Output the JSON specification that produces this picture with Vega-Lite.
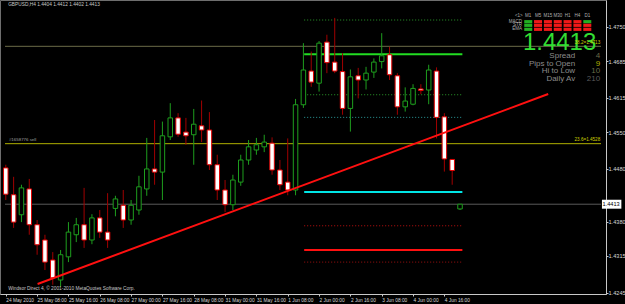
{
"$schema": "https://vega.github.io/schema/vega-lite/v6.json",
"width": 606, "height": 294,
"autosize": {"type": "none"},
"padding": {"left": 0, "top": 0, "right": 19, "bottom": 10},
"background": "#000000",
"config": {
 "view": {"stroke": "#6e6e6e", "strokeWidth": 1},
 "axis": {"grid": false, "title": null, "domainColor": "#c8c8c8", "tickColor": "#c8c8c8", "labelColor": "#d8d8d8", "labelFont": "Liberation Sans", "labelFontSize": 5.6, "tickSize": 2, "labelPadding": 0}
},
"datasets": {
 "candles": [
  {"k":0,"o":1.4482,"h":1.4488,"l":1.4421,"c":1.4432},
  {"k":1,"o":1.4431,"h":1.4465,"l":1.4368,"c":1.4379},
  {"k":2,"o":1.4393,"h":1.4450,"l":1.4379,"c":1.4444},
  {"k":3,"o":1.4442,"h":1.4461,"l":1.4355,"c":1.4374},
  {"k":4,"o":1.4374,"h":1.4383,"l":1.4317,"c":1.4336},
  {"k":5,"o":1.4345,"h":1.4355,"l":1.4288,"c":1.4303},
  {"k":6,"o":1.4307,"h":1.4322,"l":1.4260,"c":1.4273},
  {"k":7,"o":1.4269,"h":1.4326,"l":1.4256,"c":1.4317},
  {"k":8,"o":1.4313,"h":1.4379,"l":1.4303,"c":1.4360},
  {"k":9,"o":1.4355,"h":1.4387,"l":1.4341,"c":1.4374},
  {"k":10,"o":1.4374,"h":1.4444,"l":1.4330,"c":1.4345},
  {"k":11,"o":1.4345,"h":1.4394,"l":1.4337,"c":1.4387},
  {"k":12,"o":1.4387,"h":1.4402,"l":1.4349,"c":1.4360},
  {"k":13,"o":1.4360,"h":1.4434,"l":1.4330,"c":1.4345},
  {"k":14,"o":1.4405,"h":1.4429,"l":1.4390,"c":1.4423},
  {"k":15,"o":1.4411,"h":1.4440,"l":1.4368,"c":1.4383},
  {"k":16,"o":1.4383,"h":1.4421,"l":1.4374,"c":1.4411},
  {"k":17,"o":1.4402,"h":1.4467,"l":1.4393,"c":1.4446},
  {"k":18,"o":1.4442,"h":1.4539,"l":1.4429,"c":1.4480},
  {"k":19,"o":1.4480,"h":1.4573,"l":1.4450,"c":1.4474},
  {"k":20,"o":1.4474,"h":1.4570,"l":1.4421,"c":1.4543},
  {"k":21,"o":1.4541,"h":1.4605,"l":1.4535,"c":1.4577},
  {"k":22,"o":1.4577,"h":1.4586,"l":1.4541,"c":1.4546},
  {"k":23,"o":1.4550,"h":1.4577,"l":1.4526,"c":1.4543},
  {"k":24,"o":1.4545,"h":1.4594,"l":1.4488,"c":1.4565},
  {"k":25,"o":1.4562,"h":1.4610,"l":1.4531,"c":1.4554},
  {"k":26,"o":1.4554,"h":1.4588,"l":1.4478,"c":1.4488},
  {"k":27,"o":1.4488,"h":1.4507,"l":1.4421,"c":1.4440},
  {"k":28,"o":1.4440,"h":1.4459,"l":1.4398,"c":1.4412},
  {"k":29,"o":1.4412,"h":1.4469,"l":1.4402,"c":1.4459},
  {"k":30,"o":1.4455,"h":1.4507,"l":1.4448,"c":1.4497},
  {"k":31,"o":1.4497,"h":1.4535,"l":1.4488,"c":1.4522},
  {"k":32,"o":1.4516,"h":1.4539,"l":1.4507,"c":1.4526},
  {"k":33,"o":1.4522,"h":1.4545,"l":1.4512,"c":1.4531},
  {"k":34,"o":1.4529,"h":1.4540,"l":1.4469,"c":1.4478},
  {"k":35,"o":1.4478,"h":1.4497,"l":1.4440,"c":1.4450},
  {"k":36,"o":1.4455,"h":1.4538,"l":1.4430,"c":1.4440},
  {"k":37,"o":1.4440,"h":1.4613,"l":1.4430,"c":1.4602},
  {"k":38,"o":1.4602,"h":1.4719,"l":1.4596,"c":1.4668},
  {"k":39,"o":1.4666,"h":1.4703,"l":1.4636,"c":1.4645},
  {"k":40,"o":1.4643,"h":1.4723,"l":1.4627,"c":1.4719},
  {"k":41,"o":1.4721,"h":1.4735,"l":1.4662,"c":1.4682},
  {"k":42,"o":1.4683,"h":1.4767,"l":1.4662,"c":1.4666},
  {"k":43,"o":1.4665,"h":1.4700,"l":1.4583,"c":1.4595},
  {"k":44,"o":1.4595,"h":1.4669,"l":1.4551,"c":1.4655},
  {"k":45,"o":1.4657,"h":1.4672,"l":1.4614,"c":1.4649},
  {"k":46,"o":1.4649,"h":1.4674,"l":1.4631,"c":1.4662},
  {"k":47,"o":1.4664,"h":1.4690,"l":1.4653,"c":1.4683},
  {"k":48,"o":1.4684,"h":1.4738,"l":1.4671,"c":1.4695},
  {"k":49,"o":1.4697,"h":1.4712,"l":1.4649,"c":1.4659},
  {"k":50,"o":1.4657,"h":1.4662,"l":1.4583,"c":1.4598},
  {"k":51,"o":1.4598,"h":1.4635,"l":1.4589,"c":1.4609},
  {"k":52,"o":1.4603,"h":1.4641,"l":1.4601,"c":1.4633},
  {"k":53,"o":1.4632,"h":1.4641,"l":1.4622,"c":1.4629},
  {"k":54,"o":1.4630,"h":1.4678,"l":1.4603,"c":1.4668},
  {"k":55,"o":1.4666,"h":1.4673,"l":1.4538,"c":1.4578},
  {"k":56,"o":1.4579,"h":1.4586,"l":1.4475,"c":1.4499},
  {"k":57,"o":1.4498,"h":1.4498,"l":1.4450,"c":1.4477},
  {"k":58,"o":1.4404,"h":1.4413,"l":1.4402,"c":1.4413}
 ],
 "levels": [
  {"name":"Fib 38.2","p":1.4713,"from":-0.1,"to":76},
  {"name":"Fib 23.6","p":1.4528,"from":-0.1,"to":76},
  {"name":"Bid","p":1.4413,"from":-0.1,"to":76},
  {"name":"R3","p":1.4763,"from":38.1,"to":58.3},
  {"name":"R2","p":1.4698,"from":38.1,"to":58.3},
  {"name":"R1","p":1.4621,"from":38.1,"to":58.3},
  {"name":"PP","p":1.4578,"from":38.1,"to":58.3},
  {"name":"S1","p":1.4436,"from":38.1,"to":58.3},
  {"name":"S2","p":1.4372,"from":38.1,"to":58.3},
  {"name":"S3","p":1.4326,"from":38.1,"to":58.3},
  {"name":"S4","p":1.4303,"from":38.1,"to":58.3}
 ],
 "trend": [{"k":4.06,"p":1.42614},{"k":69.26,"p":1.46224}],
 "signals": [
  {"tf":"M1","k":66.71,"ind":"MACD","p":1.47598,"state":"up"},
  {"tf":"M5","k":67.96,"ind":"MACD","p":1.47598,"state":"down"},
  {"tf":"M15","k":69.22,"ind":"MACD","p":1.47598,"state":"down"},
  {"tf":"M30","k":70.48,"ind":"MACD","p":1.47598,"state":"down"},
  {"tf":"H1","k":71.73,"ind":"MACD","p":1.47598,"state":"down"},
  {"tf":"H4","k":72.99,"ind":"MACD","p":1.47598,"state":"down"},
  {"tf":"D1","k":74.25,"ind":"MACD","p":1.47598,"state":"up"},
  {"tf":"M1","k":66.71,"ind":"STR","p":1.47529,"state":"up"},
  {"tf":"M5","k":67.96,"ind":"STR","p":1.47529,"state":"down"},
  {"tf":"M15","k":69.22,"ind":"STR","p":1.47529,"state":"down"},
  {"tf":"M30","k":70.48,"ind":"STR","p":1.47529,"state":"down"},
  {"tf":"H1","k":71.73,"ind":"STR","p":1.47529,"state":"down"},
  {"tf":"H4","k":72.99,"ind":"STR","p":1.47529,"state":"down"},
  {"tf":"D1","k":74.25,"ind":"STR","p":1.47529,"state":"down"},
  {"tf":"M1","k":66.71,"ind":"EMA","p":1.47453,"state":"up"},
  {"tf":"M5","k":67.96,"ind":"EMA","p":1.47453,"state":"down"},
  {"tf":"M15","k":69.22,"ind":"EMA","p":1.47453,"state":"down"},
  {"tf":"M30","k":70.48,"ind":"EMA","p":1.47453,"state":"down"},
  {"tf":"H1","k":71.73,"ind":"EMA","p":1.47453,"state":"down"},
  {"tf":"H4","k":72.99,"ind":"EMA","p":1.47453,"state":"down"},
  {"tf":"D1","k":74.25,"ind":"EMA","p":1.47453,"state":"down"}
 ],
 "headers": [
  {"t":"<1>","k":65.5,"p":1.47706},
  {"t":"M1","k":66.71,"p":1.47706},
  {"t":"M5","k":67.96,"p":1.47706},
  {"t":"M15","k":69.22,"p":1.47706},
  {"t":"M30","k":70.48,"p":1.47706},
  {"t":"H1","k":71.73,"p":1.47706},
  {"t":"H4","k":72.99,"p":1.47706},
  {"t":"D1","k":74.25,"p":1.47706}
 ],
 "rows": [
  {"t":"MACD","k":65.9,"p":1.47598},
  {"t":"STR","k":65.9,"p":1.47529},
  {"t":"EMA","k":65.9,"p":1.47453}
 ],
 "stats": [
  {"metric":"Spread","value":"4","k":72.7,"kv":75.9,"p":1.46946,"tone":"orange"},
  {"metric":"Pips to Open","value":"9","k":72.7,"kv":75.9,"p":1.46803,"tone":"green"},
  {"metric":"Hi to Low","value":"10","k":72.7,"kv":75.9,"p":1.46661,"tone":"orange"},
  {"metric":"Daily Av","value":"210","k":72.7,"kv":75.9,"p":1.4651,"tone":"red"}
 ]
},
"layer": [
 {
  "data": {"name": "levels"},
  "transform": [{"filter": {"not": {"field": "name", "oneOf": ["R2", "S1", "S3"]}}}],
  "mark": {"type": "rule", "strokeWidth": 1},
  "encoding": {
   "x": {"field": "from", "type": "quantitative", "scale": {"domain": [-0.1, 76], "nice": false, "zero": false},
    "axis": {"orient": "bottom", "values": [0,4,8,12,16,20,24,28,32,36,40,44,48,52,56], "labelExpr": "['24 May 2010','25 May 08:00','25 May 16:00','26 May 08:00','27 May 00:00','27 May 16:00','28 May 08:00','31 May 00:00','31 May 16:00','1 Jun 08:00','2 Jun 00:00','2 Jun 16:00','3 Jun 08:00','4 Jun 00:00','4 Jun 16:00'][round(datum.value/4)]", "labelAlign": "left", "labelDx": 1, "labelFontSize": 4.8, "labelBaseline": "top", "labelPadding": 1, "labelFlush": false, "labelOverlap": false}},
   "x2": {"field": "to"},
   "y": {"field": "p", "type": "quantitative", "scale": {"domain": [1.42424, 1.4801], "nice": false, "zero": false},
    "axis": {"orient": "right", "values": [1.4245,1.428,1.4315,1.4345,1.438,1.445,1.448,1.4515,1.455,1.4585,1.4615,1.465,1.4685,1.472,1.475,1.4785], "format": ".4f", "labelBaseline": "middle", "labelOverlap": false, "labelFlush": false}},
   "color": {"field": "name", "type": "nominal", "legend": null, "scale": {"domain": ["Fib 38.2","Fib 23.6","Bid","R3","R2","R1","PP","S1","S2","S3","S4"], "range": ["#6b6b48","#b0b000","#5a5a5a","#2a9a2a","#22dd22","#2a9a2a","#2a9a9a","#00e5e5","#c01010","#ff1010","#a01010"]}},
   "strokeDash": {"field": "name", "type": "nominal", "legend": null, "scale": {"domain": ["Fib 38.2","Fib 23.6","Bid","R3","R2","R1","PP","S1","S2","S3","S4"], "range": [[1,0],[1,0],[1,0],[1,2],[1,0],[1,2],[1,2],[1,0],[1,2],[1,0],[1,2]]}}
  }
 },
 {
  "data": {"name": "levels"},
  "transform": [{"filter": {"field": "name", "oneOf": ["R2", "S1", "S3"]}}],
  "mark": {"type": "rule", "strokeWidth": 2},
  "encoding": {
   "x": {"field": "from", "type": "quantitative", "scale": {"domain": [-0.1, 76], "nice": false, "zero": false}},
   "x2": {"field": "to"},
   "y": {"field": "p", "type": "quantitative", "scale": {"domain": [1.42424, 1.4801], "nice": false, "zero": false}},
   "color": {"field": "name", "type": "nominal", "legend": null, "scale": {"domain": ["Fib 38.2","Fib 23.6","Bid","R3","R2","R1","PP","S1","S2","S3","S4"], "range": ["#6b6b48","#b0b000","#5a5a5a","#2a9a2a","#22dd22","#2a9a2a","#2a9a9a","#00e5e5","#c01010","#ff1010","#a01010"]}}
  }
 },
 {
  "data": {"name": "candles"},
  "mark": {"type": "rule", "strokeWidth": 1},
  "encoding": {
   "x": {"field": "k", "type": "quantitative", "scale": {"domain": [-0.1, 76], "nice": false, "zero": false}},
   "y": {"field": "l", "type": "quantitative", "scale": {"domain": [1.42424, 1.4801], "nice": false, "zero": false}},
   "y2": {"field": "h"},
   "color": {"condition": {"test": "datum.c >= datum.o", "value": "#1e9e1e"}, "value": "#a00000"}
  }
 },
 {
  "data": {"name": "candles"},
  "mark": {"type": "bar", "size": 4.5, "strokeWidth": 1},
  "encoding": {
   "x": {"field": "k", "type": "quantitative", "scale": {"domain": [-0.1, 76], "nice": false, "zero": false}},
   "y": {"field": "o", "type": "quantitative", "scale": {"domain": [1.42424, 1.4801], "nice": false, "zero": false}},
   "y2": {"field": "c"},
   "fill": {"condition": {"test": "datum.c >= datum.o", "value": "#000000"}, "value": "#ffffff"},
   "stroke": {"condition": {"test": "datum.c >= datum.o", "value": "#1e9e1e"}, "value": "#e00000"}
  }
 },
 {
  "data": {"name": "trend"},
  "mark": {"type": "line", "color": "#ff1010", "strokeWidth": 2},
  "encoding": {
   "x": {"field": "k", "type": "quantitative", "scale": {"domain": [-0.1, 76], "nice": false, "zero": false}},
   "y": {"field": "p", "type": "quantitative", "scale": {"domain": [1.42424, 1.4801], "nice": false, "zero": false}}
  }
 },
 {
  "data": {"name": "signals"},
  "mark": {"type": "point", "filled": true, "opacity": 1, "size": 64, "shape": "M-1,-0.4H1V0.4H-1Z"},
  "encoding": {
   "x": {"field": "k", "type": "quantitative", "scale": {"domain": [-0.1, 76], "nice": false, "zero": false}},
   "y": {"field": "p", "type": "quantitative", "scale": {"domain": [1.42424, 1.4801], "nice": false, "zero": false}},
   "color": {"condition": {"test": "datum.state == 'up'", "value": "#22b022"}, "value": "#f01818"}
  }
 },
 {
  "data": {"name": "headers"},
  "mark": {"type": "text", "fontSize": 4.5, "color": "#b0b0b0", "align": "center", "baseline": "middle", "font": "Liberation Sans"},
  "encoding": {
   "x": {"field": "k", "type": "quantitative", "scale": {"domain": [-0.1, 76], "nice": false, "zero": false}},
   "y": {"field": "p", "type": "quantitative", "scale": {"domain": [1.42424, 1.4801], "nice": false, "zero": false}},
   "text": {"field": "t"}
  }
 },
 {
  "data": {"name": "rows"},
  "mark": {"type": "text", "fontSize": 4.5, "color": "#b0b0b0", "align": "right", "baseline": "middle", "font": "Liberation Sans"},
  "encoding": {
   "x": {"field": "k", "type": "quantitative", "scale": {"domain": [-0.1, 76], "nice": false, "zero": false}},
   "y": {"field": "p", "type": "quantitative", "scale": {"domain": [1.42424, 1.4801], "nice": false, "zero": false}},
   "text": {"field": "t"}
  }
 },
 {
  "data": {"values": [{"t": "1.4413", "k": 75.4, "p": 1.4706}]},
  "mark": {"type": "text", "fontSize": 24, "color": "#33dd33", "align": "right", "baseline": "alphabetic", "font": "Liberation Sans"},
  "encoding": {
   "x": {"field": "k", "type": "quantitative", "scale": {"domain": [-0.1, 76], "nice": false, "zero": false}},
   "y": {"field": "p", "type": "quantitative", "scale": {"domain": [1.42424, 1.4801], "nice": false, "zero": false}},
   "text": {"field": "t"}
  }
 },
 {
  "data": {"name": "stats"},
  "mark": {"type": "text", "fontSize": 8, "color": "#8c8c8c", "align": "right", "baseline": "middle", "font": "Liberation Sans"},
  "encoding": {
   "x": {"field": "k", "type": "quantitative", "scale": {"domain": [-0.1, 76], "nice": false, "zero": false}},
   "y": {"field": "p", "type": "quantitative", "scale": {"domain": [1.42424, 1.4801], "nice": false, "zero": false}},
   "text": {"field": "metric"}
  }
 },
 {
  "data": {"name": "stats"},
  "mark": {"type": "text", "fontSize": 8, "align": "right", "baseline": "middle", "font": "Liberation Sans"},
  "encoding": {
   "x": {"field": "kv", "type": "quantitative", "scale": {"domain": [-0.1, 76], "nice": false, "zero": false}},
   "y": {"field": "p", "type": "quantitative", "scale": {"domain": [1.42424, 1.4801], "nice": false, "zero": false}},
   "text": {"field": "value"},
   "color": {"field": "tone", "type": "nominal", "legend": null, "scale": {"domain": ["orange", "green", "red"], "range": ["#ff9a00", "#33cc33", "#ff3a1a"]}}
  }
 },
 {
  "data": {"values": [
   {"t": "GBPUSD,H4  1.4404 1.4412 1.4402 1.4413", "k": 0.3, "p": 1.4791},
   {"t": "Windsor Direct 4, © 2001-2010 MetaQuotes Software Corp.", "k": 0.3, "p": 1.4251}
  ]},
  "mark": {"type": "text", "fontSize": 4.8, "color": "#c8c8c8", "align": "left", "baseline": "middle", "font": "Liberation Sans"},
  "encoding": {
   "x": {"field": "k", "type": "quantitative", "scale": {"domain": [-0.1, 76], "nice": false, "zero": false}},
   "y": {"field": "p", "type": "quantitative", "scale": {"domain": [1.42424, 1.4801], "nice": false, "zero": false}},
   "text": {"field": "t"}
  }
 },
 {
  "data": {"values": [
   {"t": "38.2=1.4713", "k": 75.9, "p": 1.4716},
   {"t": "23.6=1.4528", "k": 75.9, "p": 1.4531}
  ]},
  "mark": {"type": "text", "fontSize": 4.6, "color": "#d0d000", "align": "right", "baseline": "bottom", "font": "Liberation Sans"},
  "encoding": {
   "x": {"field": "k", "type": "quantitative", "scale": {"domain": [-0.1, 76], "nice": false, "zero": false}},
   "y": {"field": "p", "type": "quantitative", "scale": {"domain": [1.42424, 1.4801], "nice": false, "zero": false}},
   "text": {"field": "t"}
  }
 },
 {
  "data": {"values": [{"t": "#1658776 sell", "k": 0.4, "p": 1.4531}]},
  "mark": {"type": "text", "fontSize": 4.4, "color": "#a0a0a0", "align": "left", "baseline": "bottom", "font": "Liberation Sans"},
  "encoding": {
   "x": {"field": "k", "type": "quantitative", "scale": {"domain": [-0.1, 76], "nice": false, "zero": false}},
   "y": {"field": "p", "type": "quantitative", "scale": {"domain": [1.42424, 1.4801], "nice": false, "zero": false}},
   "text": {"field": "t"}
  }
 },
 {
  "data": {"values": [{"k": 76.12, "k2": 78.6, "p": 1.44215, "p2": 1.44045}]},
  "mark": {"type": "rect", "color": "#ffffff"},
  "encoding": {
   "x": {"field": "k", "type": "quantitative", "scale": {"domain": [-0.1, 76], "nice": false, "zero": false}},
   "x2": {"field": "k2"},
   "y": {"field": "p", "type": "quantitative", "scale": {"domain": [1.42424, 1.4801], "nice": false, "zero": false}},
   "y2": {"field": "p2"}
  }
 },
 {
  "data": {"values": [{"t": "1.4413", "k": 76.2, "p": 1.4413}]},
  "mark": {"type": "text", "fontSize": 5.6, "color": "#000000", "align": "left", "baseline": "middle", "font": "Liberation Sans"},
  "encoding": {
   "x": {"field": "k", "type": "quantitative", "scale": {"domain": [-0.1, 76], "nice": false, "zero": false}},
   "y": {"field": "p", "type": "quantitative", "scale": {"domain": [1.42424, 1.4801], "nice": false, "zero": false}},
   "text": {"field": "t"}
  }
 }
]
}
